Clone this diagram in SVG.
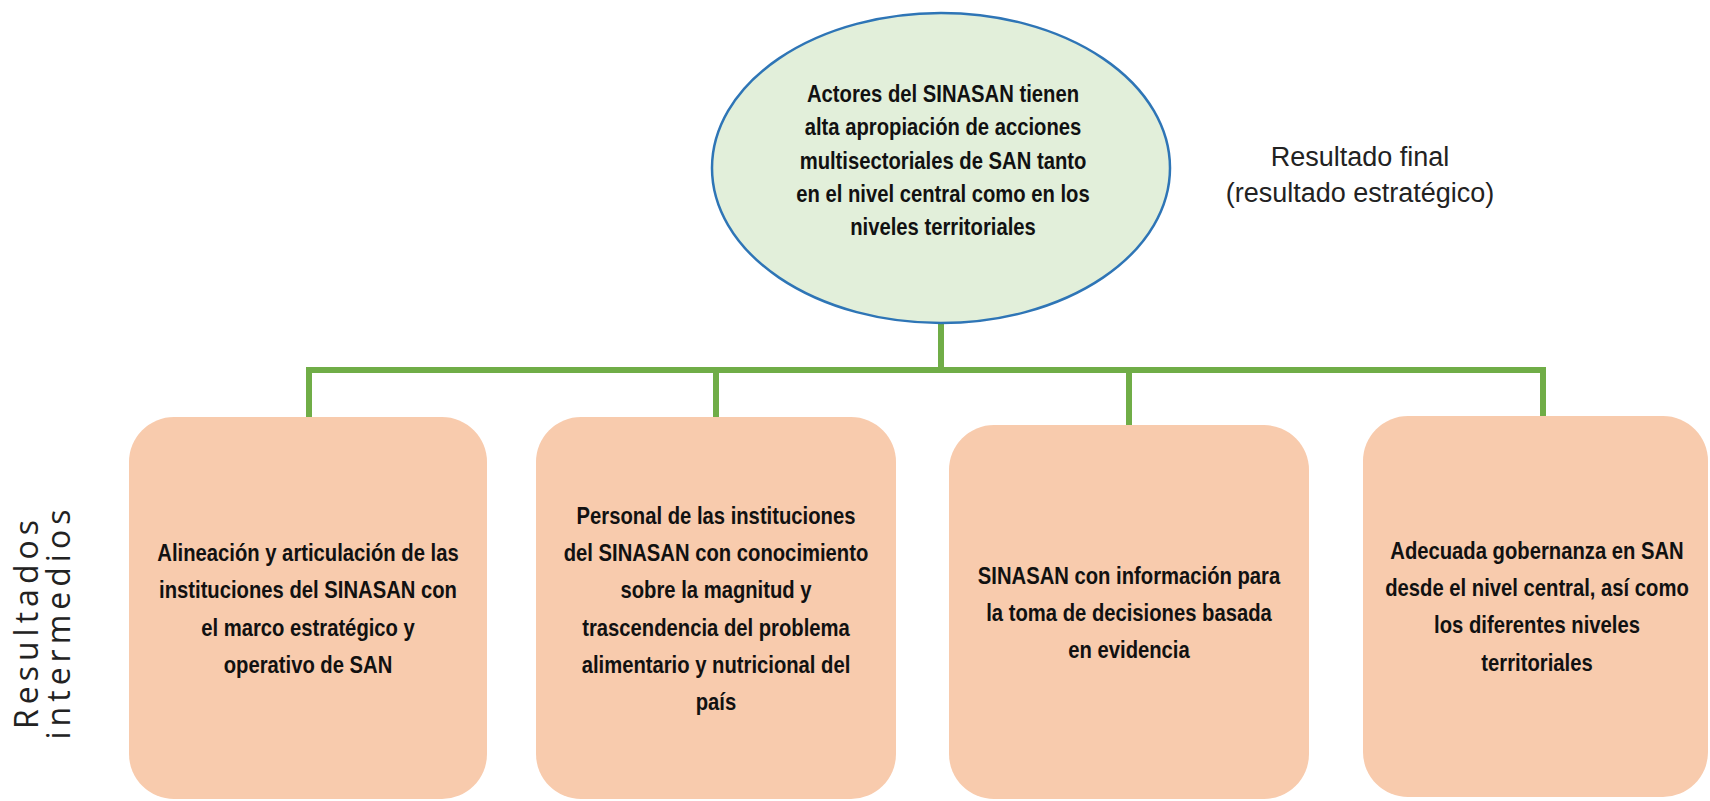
<svg xmlns="http://www.w3.org/2000/svg" width="1710" height="801" viewBox="0 0 1710 801">
<style>
.bg{fill:#ffffff}
.ell{fill:#E2EFDA;stroke:#2E75B6;stroke-width:2.5}
.box{fill:#F8CBAD}
.conn{fill:none;stroke:#70AD47;stroke-width:6;stroke-linecap:square}
.t{font-family:"Liberation Sans",Arial,sans-serif;font-weight:bold;font-size:23px;fill:#111;text-anchor:middle}
.lbl{font-family:"Liberation Sans",Arial,sans-serif;font-size:27px;fill:#222;text-anchor:middle}
.side{font-family:"Open Sans","Liberation Sans",sans-serif;font-size:32px;fill:#222;text-anchor:middle;letter-spacing:5px}
</style>
<rect class="bg" x="0" y="0" width="1710" height="801"/>
<g id="connectors">
<path class="conn" d="M941 324 V370"/>
<path class="conn" d="M309 417 V370 H1543 V416"/>
<path class="conn" d="M716 370 V417"/>
<path class="conn" d="M1129 370 V425"/>
</g>
<g id="node-final">
<ellipse class="ell" cx="941" cy="168" rx="229" ry="155"/>
<g transform="translate(943 0) scale(0.88 1)">
<text class="t" x="0" y="102">Actores del SINASAN tienen</text>
<text class="t" x="0" y="135">alta apropiación de acciones</text>
<text class="t" x="0" y="169">multisectoriales de SAN tanto</text>
<text class="t" x="0" y="202">en el nivel central como en los</text>
<text class="t" x="0" y="235">niveles territoriales</text>
</g>
</g>
<g id="label-final">
<text class="lbl" x="1360" y="166">Resultado final</text>
<text class="lbl" x="1360" y="202">(resultado estratégico)</text>
</g>
<g id="label-intermedios">
<text class="side" transform="translate(38,622) rotate(-90)">Resultados</text>
<text class="side" transform="translate(70,622) rotate(-90)">intermedios</text>
</g>
<g id="node-1">
<rect class="box" x="129" y="417" width="358" height="382" rx="45"/>
<g transform="translate(308 0) scale(0.88 1)">
<text class="t" x="0" y="561">Alineación y articulación de las</text>
<text class="t" x="0" y="598">instituciones del SINASAN con</text>
<text class="t" x="0" y="636">el marco estratégico y</text>
<text class="t" x="0" y="673">operativo de SAN</text>
</g>
</g>
<g id="node-2">
<rect class="box" x="536" y="417" width="360" height="382" rx="45"/>
<g transform="translate(716 0) scale(0.88 1)">
<text class="t" x="0" y="524">Personal de las instituciones</text>
<text class="t" x="0" y="561">del SINASAN con conocimiento</text>
<text class="t" x="0" y="598">sobre la magnitud y</text>
<text class="t" x="0" y="636">trascendencia del problema</text>
<text class="t" x="0" y="673">alimentario y nutricional del</text>
<text class="t" x="0" y="710">país</text>
</g>
</g>
<g id="node-3">
<rect class="box" x="949" y="425" width="360" height="374" rx="45"/>
<g transform="translate(1129 0) scale(0.88 1)">
<text class="t" x="0" y="584">SINASAN con información para</text>
<text class="t" x="0" y="621">la toma de decisiones basada</text>
<text class="t" x="0" y="658">en evidencia</text>
</g>
</g>
<g id="node-4">
<rect class="box" x="1363" y="416" width="345" height="381" rx="45"/>
<g transform="translate(1537 0) scale(0.88 1)">
<text class="t" x="0" y="559">Adecuada gobernanza en SAN</text>
<text class="t" x="0" y="596">desde el nivel central, así como</text>
<text class="t" x="0" y="633">los diferentes niveles</text>
<text class="t" x="0" y="671">territoriales</text>
</g>
</g>
</svg>
